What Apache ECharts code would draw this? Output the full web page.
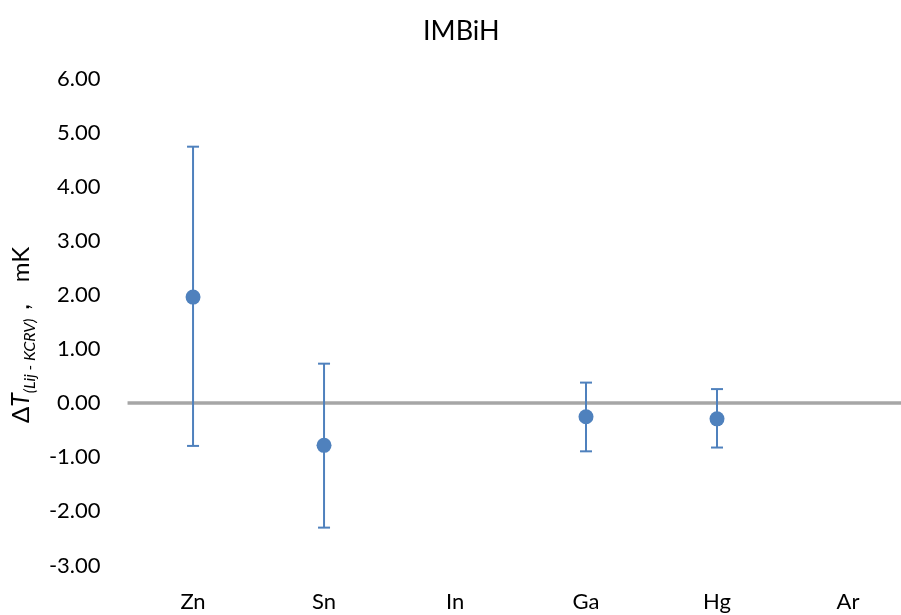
<!DOCTYPE html>
<html>
<head>
<meta charset="utf-8">
<script src="https://cdn.jsdelivr.net/npm/echarts@6/dist/echarts.min.js"></script>
<style>
html,body{margin:0;padding:0;background:#fff;overflow:hidden;}
#c{width:930px;height:615px;}
</style>
</head>
<body>
<div id="c"></div>
<script>
var categories = ['Zn', 'Sn', 'In', 'Ga', 'Hg', 'Ar'];
var values     = [1.96, -0.78, null, -0.25, -0.29, null];
var upperErr   = [4.74, 0.73, null, 0.38, 0.26, null];
var lowerErr   = [-0.79, -2.30, null, -0.89, -0.82, null];
var yTicks     = [-3, -2, -1, 0, 1, 2, 3, 4, 5, 6];

var FONT = 'Lato';
var BLUE = '#4f81bd';

var errData = [];
for (var i = 0; i < categories.length; i++) {
  if (upperErr[i] !== null) errData.push([i, lowerErr[i], upperErr[i]]);
}

var chart = echarts.init(document.getElementById('c'), null, {renderer: 'canvas'});
chart.setOption({
  animation: false,
  backgroundColor: '#ffffff',
  title: {
    text: 'IMBiH',
    left: 418,
    top: 13,
    textStyle: {fontFamily: FONT, fontSize: 27, fontWeight: 'normal', color: '#000'}
  },
  grid: {left: 126.5, top: 78.5, width: 787, height: 487, containLabel: false},
  xAxis: {
    type: 'category',
    data: categories,
    boundaryGap: true,
    axisLine: {show: false, onZero: false},
    axisTick: {show: false},
    splitLine: {show: false},
    axisLabel: {margin: 25, fontFamily: FONT, fontSize: 22, color: '#000'}
  },
  yAxis: {
    type: 'value',
    min: yTicks[0],
    max: yTicks[yTicks.length - 1],
    interval: 1,
    axisLine: {show: false},
    axisTick: {show: false},
    splitLine: {show: false},
    axisLabel: {
      margin: 27, fontFamily: FONT, fontSize: 22, color: '#000',
      formatter: function (v) { return v.toFixed(2); }
    },
    name: '{d|Δ}{t|T}{s|(Lij - KCRV)}{d|，  mK}',
    nameLocation: 'middle',
    nameRotate: 90,
    nameGap: 90,
    nameTextStyle: {
      fontFamily: FONT, color: '#000',
      padding: [0, 26, 0, 0],
      rich: {
        d: {fontFamily: FONT, fontSize: 24, color: '#000', verticalAlign: 'bottom', lineHeight: 29},
        t: {fontFamily: FONT, fontSize: 25, fontStyle: 'italic', color: '#000', verticalAlign: 'bottom', lineHeight: 29},
        s: {fontFamily: FONT, fontSize: 16, fontStyle: 'italic', color: '#000', verticalAlign: 'bottom', lineHeight: 21, padding: [0, 0, -5, 0]}
      }
    }
  },
  series: [
    {
      type: 'custom',
      data: errData,
      z: 3,
      renderItem: function (params, api) {
        var x = api.value(0);
        var lo = api.coord([x, api.value(1)]);
        var hi = api.coord([x, api.value(2)]);
        var hw = 6;
        var style = {stroke: BLUE, lineWidth: 2, fill: null};
        return {
          type: 'group',
          children: [
            {type: 'line', shape: {x1: lo[0], y1: lo[1], x2: hi[0], y2: hi[1]}, style: style},
            {type: 'line', shape: {x1: lo[0] - hw, y1: lo[1], x2: lo[0] + hw, y2: lo[1]}, style: style},
            {type: 'line', shape: {x1: hi[0] - hw, y1: hi[1], x2: hi[0] + hw, y2: hi[1]}, style: style}
          ]
        };
      },
      encode: {x: 0, y: [1, 2]}
    },
    {
      type: 'scatter',
      data: values,
      symbol: 'circle',
      symbolSize: 15,
      z: 4,
      itemStyle: {color: BLUE, opacity: 1},
      markLine: {
        silent: true,
        symbol: ['none', 'none'],
        label: {show: false},
        lineStyle: {color: '#a6a6a6', width: 3.5, type: 'solid'},
        data: [{yAxis: 0}],
        z: 1
      }
    }
  ]
});
</script>
</body>
</html>
